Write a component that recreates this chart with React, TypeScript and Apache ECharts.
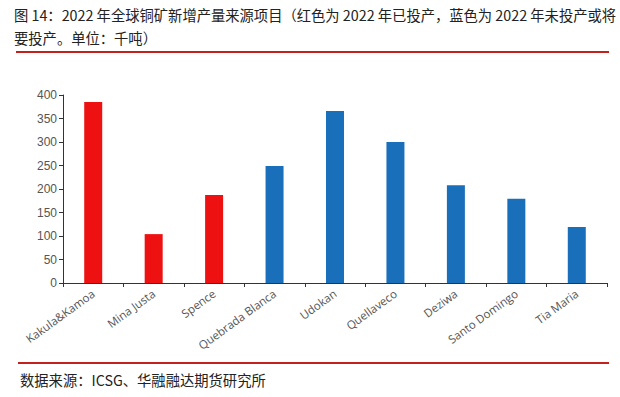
import React, { useEffect, useRef } from "react";
import * as echarts from "echarts";

const categories = ["Kakula&Kamoa", "Mina Justa", "Spence", "Quebrada Blanca", "Udokan", "Quellaveco", "Deziwa", "Santo Domingo", "Tia Maria"];
const values = [385, 104, 187, 249, 366, 300, 208, 179, 119];
const started = [true, true, true, false, false, false, false, false, false];
const yTicks = [0, 50, 100, 150, 200, 250, 300, 350, 400];

const titleLine1 = "图 14：2022 年全球铜矿新增产量来源项目（红色为 2022 年已投产，蓝色为 2022 年未投产或将";
const titleLine2 = "要投产。单位：千吨）";
const sourceText = "数据来源：ICSG、华融融达期货研究所";

export default function App() {
  const ref = useRef<HTMLDivElement>(null);
  useEffect(() => {
    if (!ref.current) return;
    const chart = echarts.init(ref.current, null, { renderer: "svg" });
    const font = "'Noto Sans CJK SC', 'Noto Sans', sans-serif";
    chart.setOption({
      animation: false,
      backgroundColor: "#ffffff",
      grid: { left: 63, right: 13, top: 95, bottom: 114, containLabel: false },
      xAxis: {
        type: "category",
        data: categories,
        axisLine: { lineStyle: { color: "#333", width: 1 } },
        axisTick: { show: true, length: 4, alignWithLabel: false, lineStyle: { color: "#333" } },
        axisLabel: {
          interval: 0,
          rotate: 36,
          fontSize: 11.5,
          color: "#555",
          fontFamily: "'Open Sans', 'DejaVu Sans', sans-serif",
          margin: 9,
        },
      },
      yAxis: {
        type: "value",
        min: yTicks[0],
        max: yTicks[yTicks.length - 1],
        interval: 50,
        splitLine: { show: false },
        axisLine: { show: true, lineStyle: { color: "#333", width: 1 } },
        axisTick: { show: true, length: 4, lineStyle: { color: "#333" } },
        axisLabel: { fontSize: 12, color: "#555", margin: 6, fontFamily: "'Liberation Sans', Arial, sans-serif" },
      },
      series: [
        {
          type: "bar",
          barWidth: 18,
          data: values.map((v, i) => ({
            value: v,
            itemStyle: { color: started[i] ? "#ee1111" : "#1a6fbb" },
          })),
        },
      ],
      graphic: [
        {
          type: "text",
          left: 14,
          top: 7,
          style: { text: titleLine1, fontSize: 14.3, fill: "#222", fontFamily: font },
        },
        {
          type: "text",
          left: 14,
          top: 30,
          style: { text: titleLine2, fontSize: 14.3, fill: "#222", fontFamily: font },
        },
        {
          type: "line",
          shape: { x1: 16, y1: 52, x2: 609, y2: 52 },
          style: { stroke: "#c42020", lineWidth: 2 },
        },
        {
          type: "line",
          shape: { x1: 18, y1: 363, x2: 609, y2: 363 },
          style: { stroke: "#c42020", lineWidth: 2 },
        },
        {
          type: "text",
          left: 20,
          top: 372,
          style: { text: sourceText, fontSize: 14.3, fill: "#222", fontFamily: font },
        },
      ],
    });
    return () => chart.dispose();
  }, []);
  return <div ref={ref} style={{ width: 620, height: 397, position: "fixed", left: 0, top: 0 }} />;
}
